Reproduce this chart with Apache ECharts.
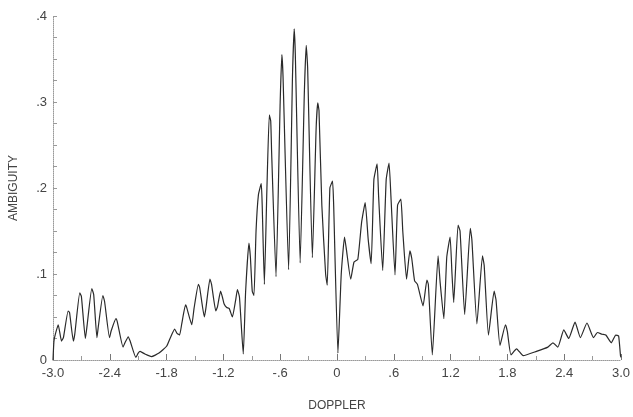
<!DOCTYPE html>
<html>
<head>
<meta charset="utf-8">
<script src="https://cdn.jsdelivr.net/npm/echarts@6/dist/echarts.min.js"></script>
<style>
  html, body { margin: 0; padding: 0; background: #fff; }
  #chart { width: 633px; height: 417px; }
</style>
</head>
<body>
<div id="chart"></div>
<script>
// curve, peak by peak
const doppler = [
  -3.000, -2.990, -2.975, -2.945, -2.910, -2.890, -2.840, -2.825, -2.785, -2.770,
  -2.717, -2.700, -2.658, -2.640, -2.590, -2.570, -2.536, -2.520, -2.473, -2.455,
  -2.403, -2.385, -2.335, -2.320, -2.260, -2.240, -2.205, -2.185, -2.125, -2.100,
  -2.080, -2.030, -1.960, -1.880, -1.800, -1.760, -1.715, -1.690, -1.663, -1.640,
  -1.600, -1.590, -1.534, -1.510, -1.464, -1.450, -1.401, -1.385, -1.342, -1.325,
  -1.280, -1.262, -1.230, -1.210, -1.192, -1.165, -1.139, -1.105, -1.070, -1.052,
  -1.030, -0.990, -0.965, -0.930, -0.915, -0.895, -0.877, -0.855, -0.830, -0.800,
  -0.790, -0.767, -0.740, -0.715, -0.700, -0.690, -0.644, -0.600, -0.582, -0.570,
  -0.511, -0.470, -0.452, -0.440, -0.389, -0.345, -0.325, -0.310, -0.260, -0.220,
  -0.203, -0.190, -0.160, -0.120, -0.103, -0.075, -0.047, -0.035, 0.010, 0.045,
  0.080, 0.100, 0.145, 0.180, 0.220, 0.260, 0.298, 0.330, 0.361, 0.390,
  0.424, 0.440, 0.483, 0.520, 0.550, 0.570, 0.613, 0.640, 0.675, 0.695,
  0.735, 0.770, 0.790, 0.820, 0.850, 0.909, 0.950, 0.965, 1.007, 1.068,
  1.090, 1.129, 1.160, 1.195, 1.215, 1.233, 1.279, 1.300, 1.349, 1.408,
  1.425, 1.478, 1.537, 1.555, 1.600, 1.660, 1.680, 1.722, 1.780, 1.800,
  1.838, 1.897, 1.967, 2.107, 2.228, 2.281, 2.333, 2.396, 2.448, 2.515,
  2.571, 2.641, 2.710, 2.752, 2.800, 2.840, 2.898, 2.945, 2.975, 2.995,
  3.000
];
const ambiguity = [
  0.000, 0.022, 0.030, 0.041, 0.022, 0.026, 0.057, 0.055, 0.022, 0.030,
  0.078, 0.074, 0.025, 0.040, 0.083, 0.076, 0.026, 0.040, 0.075, 0.068,
  0.026, 0.034, 0.048, 0.044, 0.015, 0.020, 0.027, 0.022, 0.003, 0.008,
  0.010, 0.007, 0.004, 0.008, 0.016, 0.026, 0.036, 0.031, 0.029, 0.042,
  0.064, 0.062, 0.041, 0.060, 0.088, 0.084, 0.050, 0.060, 0.094, 0.088,
  0.057, 0.062, 0.080, 0.073, 0.065, 0.061, 0.060, 0.050, 0.070, 0.082,
  0.073, 0.007, 0.080, 0.136, 0.120, 0.080, 0.075, 0.150, 0.192, 0.205,
  0.180, 0.088, 0.200, 0.285, 0.278, 0.240, 0.097, 0.300, 0.355, 0.330,
  0.105, 0.330, 0.385, 0.355, 0.113, 0.310, 0.366, 0.340, 0.119, 0.270,
  0.299, 0.290, 0.180, 0.100, 0.087, 0.200, 0.208, 0.180, 0.008, 0.100,
  0.143, 0.128, 0.094, 0.114, 0.117, 0.160, 0.183, 0.140, 0.112, 0.210,
  0.228, 0.190, 0.104, 0.210, 0.229, 0.190, 0.099, 0.180, 0.187, 0.150,
  0.094, 0.127, 0.118, 0.092, 0.088, 0.063, 0.093, 0.088, 0.006, 0.121,
  0.090, 0.048, 0.120, 0.143, 0.100, 0.067, 0.157, 0.150, 0.053, 0.153,
  0.140, 0.042, 0.121, 0.110, 0.029, 0.080, 0.070, 0.017, 0.041, 0.033,
  0.006, 0.013, 0.005, 0.010, 0.015, 0.020, 0.015, 0.035, 0.025, 0.044,
  0.026, 0.043, 0.026, 0.032, 0.030, 0.029, 0.020, 0.029, 0.028, 0.005,
  0.003
];
const xTickLabels = ["-3.0", "-2.4", "-1.8", "-1.2", "-.6", "0", ".6", "1.2", "1.8", "2.4", "3.0"];
const yTickLabels = ["0", ".1", ".2", ".3", ".4"];

const text_color = '#444';
const label_font = 'Liberation Sans';

function getAxisLine() {
  // y axis must stay on the left edge, not at doppler = 0
  return { show: true, onZero: false, lineStyle: { color: '#999', width: 1, type: 'dotted' } };
}

function buildSeriesData() {
  const points = [];
  for (let i = 0; i < doppler.length; i++) {
    points.push([doppler[i], ambiguity[i]]);
  }
  return points;
}

const chart = echarts.init(document.getElementById('chart'));
chart.setOption({
  animation: false,
  backgroundColor: '#fff',
  grid: { left: 49, right: 11, top: 16, bottom: 52 },
  xAxis: {
    type: 'value',
    min: -3,
    max: 3,
    interval: 0.6,
    name: 'DOPPLER',
    nameLocation: 'middle',
    nameGap: 40,
    nameTextStyle: { color: text_color, fontFamily: label_font, fontSize: 12 },
    axisLine: getAxisLine(),
    axisTick: { show: true, inside: true, length: 6, lineStyle: { color: '#777' } },
    minorTick: { show: true, splitNumber: 2, length: 4, lineStyle: { color: '#999' } },
    splitLine: { show: false },
    axisLabel: {
      color: text_color,
      fontFamily: label_font,
      fontSize: 13,
      margin: 7,
      formatter: function (value, index) {
        return xTickLabels[index];
      }
    }
  },
  yAxis: {
    type: 'value',
    min: 0,
    max: 0.4,
    interval: 0.1,
    name: 'AMBIGUITY',
    nameLocation: 'middle',
    nameGap: 33,
    nameTextStyle: { color: text_color, fontFamily: label_font, fontSize: 12 },
    axisLine: getAxisLine(),
    axisTick: { show: true, inside: true, length: 4, lineStyle: { color: '#999' } },
    minorTick: { show: true, splitNumber: 4, length: 4, lineStyle: { color: '#999' } },
    splitLine: { show: false },
    axisLabel: {
      color: text_color,
      fontFamily: label_font,
      fontSize: 13,
      margin: 6,
      formatter: function (value, index) {
        return yTickLabels[index];
      }
    }
  },
  series: [
    {
      type: 'line',
      data: buildSeriesData(),
      showSymbol: false,
      smooth: 0.15,
      lineStyle: { color: '#2a2a2a', width: 1.2 }
    }
  ]
});
</script>
</body>
</html>
